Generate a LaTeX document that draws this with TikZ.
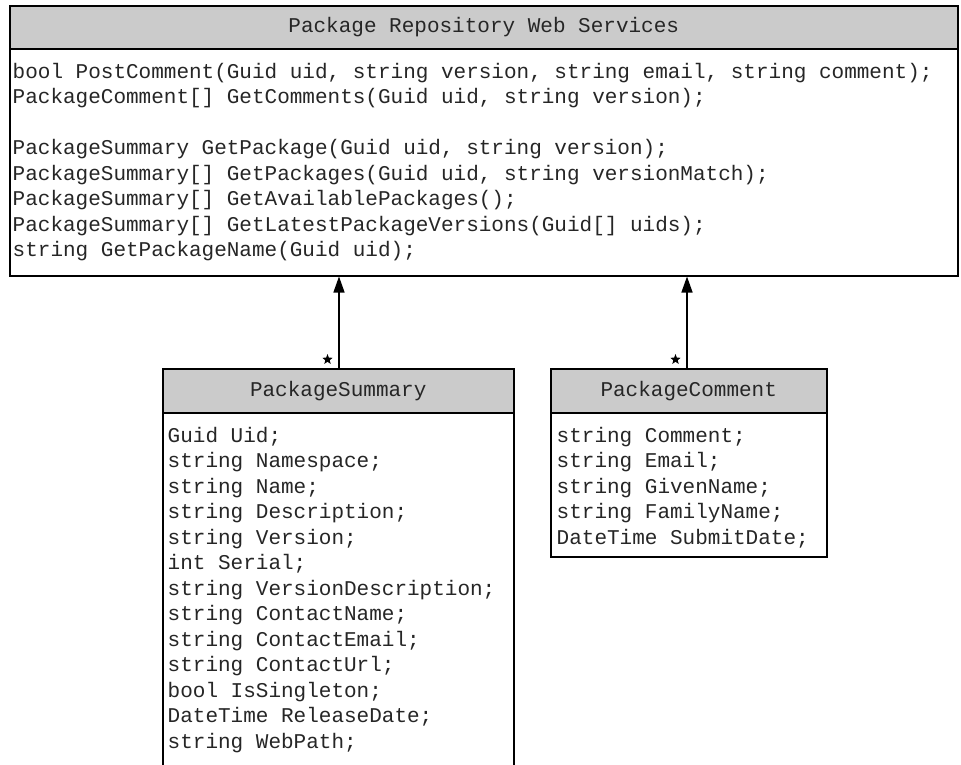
\documentclass[tikz,border=0pt]{standalone}
\usepackage{fontspec}
\setmonofont{Liberation Mono}
\usetikzlibrary{arrows.meta,shapes.geometric}
\definecolor{hdrgray}{HTML}{CBCBCB}
\definecolor{inkgray}{HTML}{262626}

\begin{document}
\begin{tikzpicture}[x=1pt,y=-1pt,
  boxframe/.style={draw=black, line width=1.5pt, rectangle, inner sep=0pt, anchor=north west},
  hdr/.style={boxframe, fill=hdrgray},
  code/.style={font=\ttfamily\fontsize{21}{25}\selectfont, text=inkgray, inner sep=0pt, anchor=base west},
  title/.style={font=\ttfamily\fontsize{21}{25}\selectfont, text=inkgray, inner sep=0pt},
  assoc/.style={draw=black, line width=1.4pt, -{Triangle[length=16pt,width=11pt]}},
  mult/.style={star, star points=5, star point ratio=2.4, fill=black, draw=none,
    minimum size=11pt, inner sep=0pt}
]
\useasboundingbox (0,0) rectangle (961,764);
\fill[white] (0,0) rectangle (961,764);

% ---- service interface ----
\node[hdr, minimum width=948, minimum height=43] (ws-head) at (9,5) {};
\node[boxframe, minimum width=948, minimum height=227] (ws-body) at (9,48) {};
\node[title] (ws-title) at (ws-head.center) {Package Repository Web Services};
\foreach \t [count=\i] in {
  {bool PostComment(Guid uid, string version, string email, string comment);},
  {PackageComment[] GetComments(Guid uid, string version);}}
  \node[code] (ws-a\i) at (12.5,{78+25.5*(\i-1)}) {\t};
\foreach \t [count=\i] in {
  {PackageSummary GetPackage(Guid uid, string version);},
  {PackageSummary[] GetPackages(Guid uid, string versionMatch);},
  {PackageSummary[] GetAvailablePackages();},
  {PackageSummary[] GetLatestPackageVersions(Guid[] uids);},
  {string GetPackageName(Guid uid);}}
  \node[code] (ws-b\i) at (12.5,{154.5+25.5*(\i-1)}) {\t};

% ---- PackageSummary ----
\node[hdr, minimum width=351, minimum height=44] (ps-head) at (162,368) {};
\node[boxframe, minimum width=351, minimum height=400] (ps-body) at (162,412) {};
\node[title] (ps-title) at (ps-head.center) {PackageSummary};
\foreach \t [count=\i] in {
  {Guid Uid;}, {string Namespace;}, {string Name;}, {string Description;},
  {string Version;}, {int Serial;}, {string VersionDescription;},
  {string ContactName;}, {string ContactEmail;}, {string ContactUrl;},
  {bool IsSingleton;}, {DateTime ReleaseDate;}, {string WebPath;}}
  \node[code] (ps-\i) at (167.5,{442+25.5*(\i-1)}) {\t};

% ---- PackageComment ----
\node[hdr, minimum width=276, minimum height=44] (pc-head) at (550,368) {};
\node[boxframe, minimum width=276, minimum height=144] (pc-body) at (550,412) {};
\node[title] (pc-title) at (pc-head.center) {PackageComment};
\foreach \t [count=\i] in {
  {string Comment;}, {string Email;}, {string GivenName;},
  {string FamilyName;}, {DateTime SubmitDate;}}
  \node[code] (pc-\i) at (556.5,{442+25.5*(\i-1)}) {\t};

% ---- associations ----
\coordinate (ps-end) at (339,368);
\coordinate (pc-end) at (687,368);
\draw[assoc] (ps-end) -- (ps-end |- ws-body.south);
\draw[assoc] (pc-end) -- (pc-end |- ws-body.south);
\node[mult] (ps-mult) at (327.5,359.5) {};
\node[mult] (pc-mult) at (675.5,359.5) {};
\end{tikzpicture}
\end{document}
